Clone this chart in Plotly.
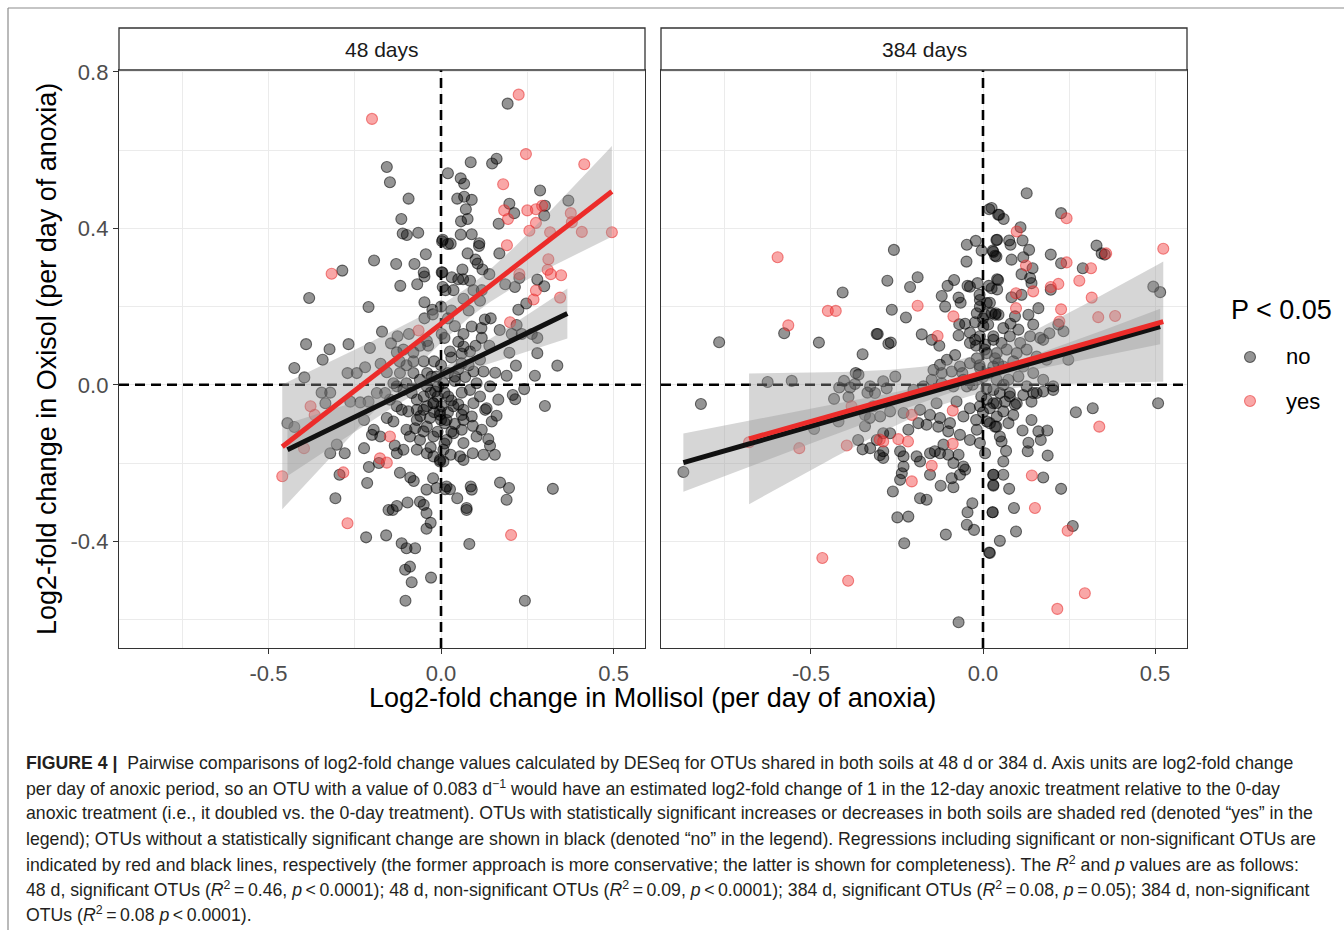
import numpy as np
import plotly.graph_objects as go

# ---------------- data ----------------
panels = ["48 days", "384 days"]
x_ticks = [-0.5, 0.0, 0.5]
x_tick_labels = ["-0.5", "0.0", "0.5"]
y_ticks = [-0.4, 0.0, 0.4, 0.8]
y_tick_labels = ["-0.4", "0.0", "0.4", "0.8"]
ref_x0 = 0.0   # dashed reference line x = 0
ref_y0 = 0.0   # dashed reference line y = 0

d48_yes = [(-0.20,0.68),(-0.317,0.284),(-0.065,0.139),(0.225,0.742),(0.246,0.59),(0.415,0.564),(0.18,0.513),
 (0.183,0.446),(0.194,0.424),(0.25,0.446),(0.275,0.449),(0.293,0.458),(0.376,0.439),(0.379,0.416),(0.275,0.414),
 (0.256,0.394),(0.316,0.39),(0.408,0.391),(0.495,0.39),(0.191,0.357),(0.311,0.321),(0.309,0.294),(0.318,0.283),
 (0.348,0.28),(0.227,0.283),(0.275,0.241),(0.268,0.218),(0.345,0.223),(0.2,0.16),(-0.378,-0.055),(-0.366,-0.077),
 (-0.397,-0.162),(-0.46,-0.234),(-0.148,-0.132),(-0.177,-0.188),(-0.157,-0.199),(-0.283,-0.224),(-0.271,-0.354),
 (0.203,-0.384)]

d48_no = [(-0.157,0.557),(-0.148,0.518),(-0.094,0.476),(-0.115,0.424),(-0.111,0.387),(-0.099,0.383),(-0.066,0.389),
 (-0.044,0.334),(-0.194,0.318),(-0.13,0.309),(-0.077,0.309),(-0.05,0.287),(-0.048,0.277),(0.002,0.288),(0.003,0.367),
 (0.02,0.36),(0.02,0.541),(-0.286,0.292),(-0.382,0.222),(-0.21,0.199),(-0.118,0.253),(-0.069,0.257),(-0.048,0.211),
 (-0.025,0.192),(-0.024,0.18),(-0.048,0.17),(-0.171,0.136),(-0.126,0.124),(-0.093,0.13),(-0.391,0.104),(-0.323,0.091),
 (-0.268,0.104),(-0.206,0.094),(-0.145,0.106),(-0.037,0.1),(0.002,0.13),(0.005,0.25),
 (0.193,0.719),(0.086,0.569),(0.148,0.566),(0.161,0.578),(0.057,0.528),(0.067,0.514),(0.047,0.476),(0.067,0.481),
 (0.089,0.473),(0.072,0.449),(0.077,0.424),(0.058,0.418),(0.089,0.385),(0.057,0.384),(0.005,0.371),(0.028,0.361),
 (0.287,0.497),(0.198,0.463),(0.212,0.439),(0.167,0.412),(0.301,0.458),(0.299,0.433),(0.369,0.471),(0.169,0.336),
 (0.111,0.362),(0.11,0.355),(0.077,0.336),(0.1,0.32),(0.106,0.31),(0.062,0.295),(0.004,0.287),(0.031,0.275),
 (0.05,0.27),(0.064,0.27),(0.084,0.266),(0.14,0.283),(0.12,0.295),(0.227,0.273),(0.186,0.257),(0.214,0.25),
 (0.279,0.269),(0.299,0.252),(0.247,0.208),(0.224,0.192),(0.219,0.153),(0.144,0.17),(0.127,0.167),(0.118,0.242),
 (0.094,0.242),(0.036,0.242),(0.013,0.242),(0.065,0.22),(0.113,0.215),(0.089,0.149),(0.117,0.145),(0.065,0.13),
 (0.118,0.12),(0.205,0.13),(0.234,0.13),(0.263,0.13),(0.279,0.12),
 (0.0,0.2),(0.02,0.17),(0.04,0.15),(0.01,0.12),(0.05,0.11),(0.03,0.19),(0.08,0.19),(0.1,0.1),(0.14,0.1),(0.17,0.14),
 (-0.343,0.064),(-0.425,0.043),(-0.396,0.019),(-0.22,0.045),(-0.175,0.054),(-0.157,0.032),(-0.128,0.083),(-0.109,0.09),
 (-0.08,0.083),(-0.061,0.1),(-0.041,0.112),(-0.346,-0.02),(-0.321,-0.02),(-0.335,-0.047),(-0.445,-0.098),(-0.425,-0.108),
 (-0.302,-0.153),(-0.321,-0.175),(-0.279,-0.175),(-0.223,-0.162),(-0.271,0.03),(-0.244,0.03),(-0.263,-0.043),
 (-0.234,-0.045),(-0.21,-0.043),(-0.186,-0.021),(-0.223,-0.09),(-0.195,-0.115),(-0.176,-0.132),(-0.2,-0.128),
 (-0.134,-0.155),(-0.128,-0.175),(-0.209,-0.21),(-0.18,-0.2),(-0.294,-0.23),(-0.214,-0.251),(-0.306,-0.29),
 (-0.217,-0.39),(-0.159,-0.385),(-0.152,-0.32),(-0.14,-0.32),(-0.128,-0.31),(-0.097,-0.301),(-0.061,-0.299),
 (-0.05,-0.307),(-0.042,-0.328),(-0.03,-0.353),(-0.042,-0.368),(-0.119,-0.225),(-0.089,-0.237),(-0.079,-0.246),
 (-0.042,-0.268),(-0.013,-0.264),(-0.023,-0.239),(-0.114,-0.405),(-0.1,-0.418),(-0.075,-0.418),(-0.104,-0.473),
 (-0.09,-0.465),(-0.085,-0.505),(-0.029,-0.493),(-0.103,-0.552),
 (-0.1,-0.115),(-0.07,-0.09),(-0.041,-0.107),(-0.022,-0.132),(-0.061,-0.141),(-0.09,-0.132),(-0.109,-0.166),
 (-0.07,-0.166),(-0.041,-0.175),(-0.022,-0.183),(-0.003,-0.192),(0.007,-0.166),(0.016,-0.141),(0.011,-0.098),
 (0.002,-0.055),(-0.041,-0.055),(-0.051,-0.064),(-0.022,-0.047),(-0.003,-0.068),(-0.07,-0.038),(-0.085,-0.021),
 (-0.109,-0.013),(-0.128,-0.004),(-0.1,0.004),(-0.061,0.013),(-0.027,0.021),(-0.041,-0.004),(-0.008,-0.004),
 (-0.08,0.03),(-0.119,0.03),(-0.138,0.004),(-0.162,-0.021),(-0.148,-0.038),(-0.128,-0.055),(-0.157,-0.085),
 (-0.138,-0.094),(-0.114,-0.064),(-0.095,-0.068),(-0.07,-0.064),(-0.075,-0.111),(-0.051,-0.119),(-0.032,-0.085),
 (0.016,-0.26),
 (-0.03,-0.02),(-0.01,-0.03),(0.01,-0.02),(0.03,-0.04),(-0.02,-0.07),(0.0,-0.09),(0.02,-0.07),(-0.05,-0.03),
 (-0.06,-0.08),(0.04,-0.1),(0.03,-0.12),(-0.01,-0.12),(0.01,-0.15),(-0.03,-0.16),(0.05,-0.05),(0.06,-0.02),
 (0.04,0.01),(0.02,0.03),(0.0,0.05),(-0.02,0.06),(0.03,0.07),(0.05,0.04),(0.07,0.02),(0.08,0.05),(0.06,0.08),
 (-0.04,0.03),(-0.05,0.06),(-0.08,0.06),(-0.1,0.05),(-0.12,0.06),
 (0.337,0.049),(0.279,0.081),(0.272,0.023),(0.217,0.049),(0.198,0.082),(0.19,0.023),(0.157,0.031),(0.241,-0.011),
 (0.301,-0.054),(0.208,-0.026),(0.215,-0.037),(0.166,-0.038),(0.132,-0.06),(0.161,-0.079),(0.147,-0.094),
 (0.092,-0.105),(0.118,-0.115),(0.103,-0.132),(0.137,-0.139),(0.142,-0.156),(0.156,-0.179),(0.123,-0.179),
 (0.092,-0.175),(0.065,-0.149),(0.06,-0.115),(0.036,-0.124),(0.055,-0.183),(0.065,-0.192),(0.028,-0.179),
 (-0.003,-0.196),(0.007,-0.196),(0.171,-0.25),(0.197,-0.264),(0.19,-0.294),(0.324,-0.266),(0.086,-0.26),
 (0.089,-0.268),(0.026,-0.267),(0.012,-0.267),(0.047,-0.29),(0.074,-0.315),(0.074,-0.32),(0.082,-0.407),
 (0.243,-0.552),
 (0.026,0.085),(0.065,0.098),(0.084,0.085),(0.06,0.055),(0.094,0.034),(0.123,0.034),(0.142,-0.004),(0.103,0.004),
 (0.084,-0.013),(0.113,-0.03),(0.094,-0.047),(0.128,-0.064),(0.065,-0.064),(0.06,-0.077),(0.036,-0.055),
 (0.021,-0.03),(0.007,0.004),(-0.017,-0.017),(-0.022,-0.047),(-0.003,-0.077),(0.016,-0.09),(0.065,-0.09),
 (0.089,-0.081),(-0.013,0.021),(0.113,0.064),(0.04,0.021)]

d384_yes = [(-0.597,0.326),(-0.451,0.189),(-0.428,0.189),(-0.566,0.152),(-0.382,-0.055),(-0.68,-0.147),
 (-0.534,-0.162),(-0.396,-0.155),(-0.30,-0.14),(-0.467,-0.443),(-0.392,-0.501),
 (-0.19,0.202),(-0.132,0.125),(-0.086,0.175),
 (0.243,0.426),(0.098,0.392),(0.125,0.305),(0.243,0.313),(0.358,0.336),(0.314,0.298),(0.524,0.348),(0.28,0.266),
 (0.219,0.258),(0.197,0.25),(0.146,0.239),(0.096,0.234),(0.316,0.223),(0.227,0.193),(0.096,0.196),(0.335,0.173),
 (0.384,0.176),(0.222,0.162),
 (-0.29,-0.145),(-0.246,-0.139),(-0.218,-0.145),(-0.207,-0.077),(-0.088,-0.066),(-0.088,-0.151),(-0.149,-0.207),
 (-0.207,-0.247),
 (0.338,-0.107),(0.142,-0.232),(0.151,-0.315),(0.246,-0.373),(0.296,-0.533),(0.216,-0.573)]

d384_no = [(-0.408,0.236),(-0.578,0.132),(-0.767,0.109),(-0.477,0.108),(-0.309,0.13),(-0.35,0.078),(-0.37,0.03),
 (-0.362,0.026),(-0.626,0.007),(-0.556,0.01),(-0.404,0.01),(-0.418,-0.007),(-0.386,-0.007),(-0.372,0.002),
 (-0.336,-0.02),(-0.433,-0.036),(-0.391,-0.031),(-0.82,-0.049),(-0.319,-0.055),(-0.343,-0.077),(-0.329,-0.085),
 (-0.343,-0.106),(-0.42,-0.094),(-0.491,-0.113),(-0.363,-0.141),(-0.35,-0.165),(-0.871,-0.223),(-0.30,-0.18),
 (-0.259,0.345),(-0.278,0.266),(-0.19,0.275),(-0.212,0.25),(-0.265,0.192),(-0.224,0.172),(-0.306,0.13),
 (-0.275,0.105),(-0.268,0.108),(-0.178,0.129),(-0.149,0.115),(-0.127,0.1),(-0.12,0.227),(-0.11,0.2),(-0.103,0.253),
 (-0.084,0.268),(-0.071,0.223),(-0.065,0.21),(-0.069,0.155),(-0.052,0.156),(-0.071,0.126),(-0.047,0.358),
 (-0.021,0.368),(-0.004,0.343),(-0.048,0.315),(-0.045,0.253),(-0.016,0.26),(-0.038,0.251),(0.018,0.449),
 (0.044,0.435),(0.039,0.37),(0.03,0.34),(0.039,0.328),(0.017,0.253),(0.044,0.268),(-0.009,0.217),(0.011,0.209),
 (-0.009,0.2),(0.006,0.179),(0.035,0.179),(-0.018,0.183),(-0.023,0.16),(0.001,0.15),(0.015,0.154),(-0.038,0.133),
 (-0.023,0.115),(-0.009,0.124),(-0.038,0.107),(0.006,0.103),(0.03,0.115),
 (-0.081,0.076),(-0.105,0.064),(-0.125,0.051),(-0.144,0.038),(-0.12,0.03),(-0.091,0.034),(-0.067,0.047),
 (-0.038,0.055),(-0.018,0.068),(0.011,0.081),(0.035,0.068),(0.044,0.055),(-0.009,0.043),(0.018,0.03),(-0.057,0.013),
 (-0.086,-0.004),(-0.12,0.004),(-0.149,0.013),(-0.173,-0.004),(-0.202,-0.013),(-0.255,0.021),(-0.29,0.009),
 (-0.28,-0.009),(-0.314,-0.021),(-0.328,-0.004),(-0.047,-0.004),(-0.018,0.013),
 (0.127,0.49),(0.227,0.439),(0.025,0.452),(0.047,0.435),(0.06,0.424),(0.109,0.403),(0.041,0.371),(0.076,0.369),
 (0.08,0.358),(0.115,0.369),(0.134,0.345),(0.028,0.343),(0.035,0.33),(0.083,0.32),(0.117,0.326),(0.144,0.298),
 (0.197,0.333),(0.227,0.311),(0.33,0.356),(0.345,0.336),(0.354,0.333),(0.29,0.298),(0.041,0.27),(0.112,0.283),
 (0.137,0.273),(0.141,0.26),(0.197,0.243),(0.112,0.23),(0.083,0.224),(0.025,0.247),(0.041,0.244),(0.495,0.251),
 (0.515,0.237),(0.161,0.196),(0.219,0.154),(0.234,0.137),(0.193,0.132),(0.175,0.115),(0.132,0.179),(0.093,0.175),
 (0.045,0.179),(0.037,0.183),(0.025,0.183),(0.08,0.156),(0.059,0.145),(0.146,0.154),(0.103,0.141),(0.248,0.064),
 (0.03,0.124),(0.054,0.107),(0.078,0.124),(0.108,0.107),(0.137,0.124),(0.166,0.12),(0.04,0.081),(0.069,0.09),
 (0.098,0.081),(0.127,0.09),(0.156,0.072),(0.185,0.064),(0.03,0.047),(0.059,0.047),(0.088,0.06),(0.117,0.047),
 (0.146,0.03),(0.175,0.013),(0.204,-0.004),(0.04,0.013),(0.074,0.013),(0.103,0.021),(0.127,-0.004),(0.156,-0.021),
 (0.078,-0.021),(0.03,-0.013),
 (-0.29,-0.17),(-0.29,-0.187),(-0.241,-0.17),(-0.231,-0.183),(-0.231,-0.209),(-0.236,-0.226),(-0.241,-0.243),
 (-0.262,-0.273),(-0.193,-0.183),(-0.183,-0.196),(-0.183,-0.29),(-0.164,-0.294),(-0.249,-0.339),(-0.217,-0.337),
 (-0.229,-0.405),(-0.154,-0.23),(-0.123,-0.258),(-0.086,-0.262),(-0.091,-0.239),(-0.067,-0.23),(-0.052,-0.217),
 (-0.057,-0.209),(-0.154,-0.175),(-0.14,-0.17),(-0.125,-0.175),(-0.101,-0.179),(-0.086,-0.2),(-0.071,-0.179),
 (-0.115,-0.153),(-0.031,-0.303),(-0.045,-0.326),(-0.047,-0.358),(-0.026,-0.371),(-0.108,-0.383),(-0.071,-0.607),
 (0.03,-0.23),(0.03,-0.256),(0.028,-0.326),(0.018,-0.429),(0.006,-0.175),(-0.009,-0.149),(-0.038,-0.141),
 (-0.067,-0.128),(-0.101,-0.119),(-0.13,-0.107),(-0.164,-0.102),(-0.188,-0.098),(-0.217,-0.115),(-0.27,-0.124),
 (-0.29,-0.124),(-0.309,-0.141),(-0.328,-0.162),(-0.154,-0.077),(-0.125,-0.085),(-0.096,-0.098),(-0.057,-0.081),
 (-0.018,-0.115),(0.011,-0.094),(0.039,-0.107),(-0.038,-0.06),(-0.009,-0.055),(-0.183,-0.064),(-0.231,-0.072),
 (-0.27,-0.068),(-0.299,-0.081),(-0.135,-0.047),(-0.077,-0.043),(0.011,-0.038),(0.039,-0.047),
 (0.509,-0.047),(0.319,-0.06),(0.27,-0.07),(0.141,-0.09),(0.115,-0.117),(0.161,-0.119),(0.187,-0.117),
 (0.168,-0.141),(0.132,-0.148),(0.13,-0.17),(0.188,-0.181),(0.088,-0.077),(0.093,-0.051),(0.059,-0.068),
 (0.04,-0.081),(0.074,-0.098),(0.049,-0.132),(0.054,-0.145),(0.067,-0.169),(0.059,-0.196),(0.175,-0.237),
 (0.227,-0.266),(0.03,-0.23),(0.059,-0.23),(0.03,-0.258),(0.076,-0.266),(0.09,-0.315),(0.028,-0.326),
 (0.096,-0.375),(0.049,-0.399),(0.02,-0.43),(0.261,-0.361),
 (0.049,-0.021),(0.078,-0.03),(0.117,-0.026),(0.146,-0.021),(0.175,-0.017),(0.204,-0.013),(0.03,-0.047),
 (0.064,-0.043),(0.098,-0.047),(0.141,-0.043),(0.02,-0.098),(0.035,-0.107),
 (-0.01,0.05),(0.0,0.02),(0.01,-0.01),(-0.005,-0.03),(0.005,0.09),(-0.02,0.1),(0.0,0.17),(-0.01,0.23),
 (0.02,0.21),(0.0,-0.07),(-0.02,-0.09),(0.02,-0.06),(-0.03,0.0),(-0.06,0.03),(0.06,0.0)]

# regression fits: x-range, slope, intercept, mean x, se at mean^2, se-slope^2
fit48_yes = dict(x0=-0.46, x1=0.495, slope=0.684, icpt=0.156, xm=0.10, a=0.0016, b=0.076)
fit48_no = dict(x0=-0.445, x1=0.366, slope=0.43, icpt=0.025, xm=-0.03, a=0.0002, b=0.025)
fit384_yes = dict(x0=-0.68, x1=0.524, slope=0.249, icpt=0.031, xm=-0.05, a=0.0025, b=0.064)
fit384_no = dict(x0=-0.871, x1=0.515, slope=0.251, icpt=0.0196, xm=0.0, a=0.0002, b=0.007)

caption_lines = [
    "<b>FIGURE 4 |</b>  Pairwise comparisons of log2-fold change values calculated by DESeq for OTUs shared in both soils at 48 d or 384 d. Axis units are log2-fold change",
    "per day of anoxic period, so an OTU with a value of 0.083 d<sup>\u22121</sup> would have an estimated log2-fold change of 1 in the 12-day anoxic treatment relative to the 0-day",
    "anoxic treatment (i.e., it doubled vs. the 0-day treatment). OTUs with statistically significant increases or decreases in both soils are shaded red (denoted \u201cyes\u201d in the",
    "legend); OTUs without a statistically significant change are shown in black (denoted \u201cno\u201d in the legend). Regressions including significant or non-significant OTUs are",
    "indicated by red and black lines, respectively (the former approach is more conservative; the latter is shown for completeness). The <i>R</i><sup>2</sup> and <i>p</i> values are as follows:",
    "48 d, significant OTUs (<i>R</i><sup>2</sup>\u2009=\u20090.46, <i>p</i>\u2009&lt;\u20090.0001); 48 d, non-significant OTUs (<i>R</i><sup>2</sup>\u2009=\u20090.09, <i>p</i>\u2009&lt;\u20090.0001); 384 d, significant OTUs (<i>R</i><sup>2</sup>\u2009=\u20090.08, <i>p</i>\u2009=\u20090.05); 384 d, non-significant",
    "OTUs (<i>R</i><sup>2</sup>\u2009=\u20090.08 <i>p</i>\u2009&lt;\u20090.0001).",
]

# ---------------- figure ----------------
W, H = 1344, 930
FONT = "Liberation Sans, Arial, sans-serif"
GRAY_FILL = "rgba(0,0,0,0.42)"
GRAY_EDGE = "rgba(0,0,0,0.55)"
RED_FILL = "rgba(242,60,60,0.45)"
RED_EDGE = "rgba(230,40,40,0.55)"
RED_LINE = "#ec2c2a"
YR = [-0.673, 0.805]
XR1 = [-0.933, 0.591]
XR2 = [-0.936, 0.593]

def px(v): return v / W
def py(v): return 1 - v / H

fig = go.Figure()

def add_refs(xa, ya, xr):
    dash = dict(color="black", width=2.6, dash="10px,6px")
    fig.add_trace(go.Scatter(x=[ref_x0, ref_x0], y=YR, mode="lines", line=dash, xaxis=xa, yaxis=ya,
                             showlegend=False, hoverinfo="skip"))
    fig.add_trace(go.Scatter(x=xr, y=[ref_y0, ref_y0], mode="lines", line=dash, xaxis=xa, yaxis=ya,
                             showlegend=False, hoverinfo="skip"))

def add_points(data, xa, ya, fill, edge):
    xs = [p[0] for p in data]
    ys = [p[1] for p in data]
    fig.add_trace(go.Scatter(x=xs, y=ys, mode="markers", xaxis=xa, yaxis=ya, showlegend=False,
                             hoverinfo="skip",
                             marker=dict(size=11, color=fill, line=dict(color=edge, width=1.1))))

def add_fit(f, xa, ya):
    xs = np.linspace(f["x0"], f["x1"], 80)
    yc = f["slope"] * xs + f["icpt"]
    hw = np.sqrt(f["a"] + f["b"] * (xs - f["xm"]) ** 2)
    fig.add_trace(go.Scatter(x=np.concatenate([xs, xs[::-1]]),
                             y=np.concatenate([yc + hw, (yc - hw)[::-1]]),
                             mode="lines", fill="toself", fillcolor="rgba(153,153,153,0.4)",
                             line=dict(width=0), xaxis=xa, yaxis=ya, showlegend=False, hoverinfo="skip"))
    return xs, yc

def add_line(xs, yc, xa, ya, color):
    fig.add_trace(go.Scatter(x=xs, y=yc, mode="lines", line=dict(color=color, width=5),
                             xaxis=xa, yaxis=ya, showlegend=False, hoverinfo="skip"))

# panel 1
add_refs("x", "y", XR1)
add_points(d48_no, "x", "y", GRAY_FILL, GRAY_EDGE)
add_points(d48_yes, "x", "y", RED_FILL, RED_EDGE)
l1 = add_fit(fit48_no, "x", "y")
l2 = add_fit(fit48_yes, "x", "y")
add_line(*l1, "x", "y", "#111111")
add_line(*l2, "x", "y", RED_LINE)
# panel 2
add_refs("x2", "y2", XR2)
add_points(d384_no, "x2", "y2", GRAY_FILL, GRAY_EDGE)
add_points(d384_yes, "x2", "y2", RED_FILL, RED_EDGE)
l3 = add_fit(fit384_no, "x2", "y2")
l4 = add_fit(fit384_yes, "x2", "y2")
add_line(*l3, "x2", "y2", "#111111")
add_line(*l4, "x2", "y2", RED_LINE)

TICKFONT = dict(family=FONT, size=22, color="#4d4d4d")
common_x = dict(tickvals=x_ticks, ticktext=x_tick_labels, showgrid=True, gridcolor="#ebebeb", gridwidth=1.4,
                minor=dict(dtick=0.25, tick0=0, showgrid=True, gridcolor="#ebebeb", gridwidth=1.0, ticks=""),
                zeroline=False, showline=True, mirror=True, linecolor="#333333", linewidth=1.3,
                ticks="outside", ticklen=5, tickwidth=1.4, tickcolor="#333333", tickfont=TICKFONT,
                automargin=False)
common_y = dict(range=YR, tickvals=y_ticks, ticktext=y_tick_labels, showgrid=True, gridcolor="#ebebeb", gridwidth=1.4,
                minor=dict(dtick=0.2, tick0=0, showgrid=True, gridcolor="#ebebeb", gridwidth=1.0, ticks=""),
                zeroline=False, showline=True, mirror=True, linecolor="#333333", linewidth=1.3,
                tickfont=TICKFONT, automargin=False)

fig.update_layout(
    width=W, height=H, margin=dict(l=0, r=0, t=0, b=0, pad=0),
    paper_bgcolor="white", plot_bgcolor="white",
    xaxis=dict(domain=[px(119), px(645)], range=XR1, anchor="y", **common_x),
    xaxis2=dict(domain=[px(661), px(1187)], range=XR2, anchor="y2", **common_x),
    yaxis=dict(domain=[py(648), py(70)], anchor="x", ticks="outside", ticklen=5, tickwidth=1.4,
               tickcolor="#333333", **common_y),
    yaxis2=dict(domain=[py(648), py(70)], anchor="x2", showticklabels=False, ticks="", **common_y),
    showlegend=False,
)

shapes = []
# strips
for l, r in [(119, 645), (661, 1187)]:
    shapes.append(dict(type="rect", xref="paper", yref="paper", x0=px(l), x1=px(r), y0=py(70), y1=py(28),
                       fillcolor="white", line=dict(color="#333333", width=1.3)))
# legend keys
shapes.append(dict(type="circle", xref="paper", yref="paper", x0=px(1244.5), x1=px(1255.5), y0=py(362.5), y1=py(351.5),
                   fillcolor=GRAY_FILL, line=dict(color=GRAY_EDGE, width=1.1)))
shapes.append(dict(type="circle", xref="paper", yref="paper", x0=px(1244.5), x1=px(1255.5), y0=py(406.5), y1=py(395.5),
                   fillcolor=RED_FILL, line=dict(color=RED_EDGE, width=1.1)))
# figure frame
shapes.append(dict(type="line", xref="paper", yref="paper", x0=px(8), x1=1, y0=py(8), y1=py(8),
                   line=dict(color="#8c8c8c", width=1.2)))
shapes.append(dict(type="line", xref="paper", yref="paper", x0=px(8), x1=px(8), y0=py(8), y1=0,
                   line=dict(color="#8c8c8c", width=1.2)))
fig.update_layout(shapes=shapes)

ann = []
for name, l, r in [(panels[0], 119, 645), (panels[1], 661, 1187)]:
    ann.append(dict(text=name, x=px((l + r) / 2), y=py(49), xref="paper", yref="paper", showarrow=False,
                    xanchor="center", yanchor="middle", font=dict(family=FONT, size=21, color="#1a1a1a")))
ann.append(dict(text="Log2-fold change in Mollisol (per day of anoxia)", x=px(652), y=py(698), xref="paper",
                yref="paper", showarrow=False, xanchor="center", yanchor="middle",
                font=dict(family=FONT, size=27, color="black")))
ann.append(dict(text="Log2-fold change in Oxisol (per day of anoxia)", x=px(47), y=py(359), xref="paper",
                yref="paper", showarrow=False, xanchor="center", yanchor="middle", textangle=-90,
                font=dict(family=FONT, size=27, color="black")))
ann.append(dict(text="P &lt; 0.05", x=px(1229), y=py(310), xref="paper", yref="paper", showarrow=False,
                xanchor="left", yanchor="middle", font=dict(family=FONT, size=27, color="black")))
ann.append(dict(text="no", x=px(1284), y=py(357), xref="paper", yref="paper", showarrow=False,
                xanchor="left", yanchor="middle", font=dict(family=FONT, size=22, color="black")))
ann.append(dict(text="yes", x=px(1284), y=py(401), xref="paper", yref="paper", showarrow=False,
                xanchor="left", yanchor="middle", font=dict(family=FONT, size=22, color="black")))
for i, line in enumerate(caption_lines):
    ann.append(dict(text=line, x=px(24), y=py(763 + i * 25.2), xref="paper", yref="paper", showarrow=False,
                    xanchor="left", yanchor="middle", align="left",
                    font=dict(family=FONT, size=17.7, color="#231f20")))
fig.update_layout(annotations=ann)

fig.write_html("out.html", config=dict(displayModeBar=False),
               post_script="document.body.style.margin='0px';document.body.style.overflow='hidden';")
